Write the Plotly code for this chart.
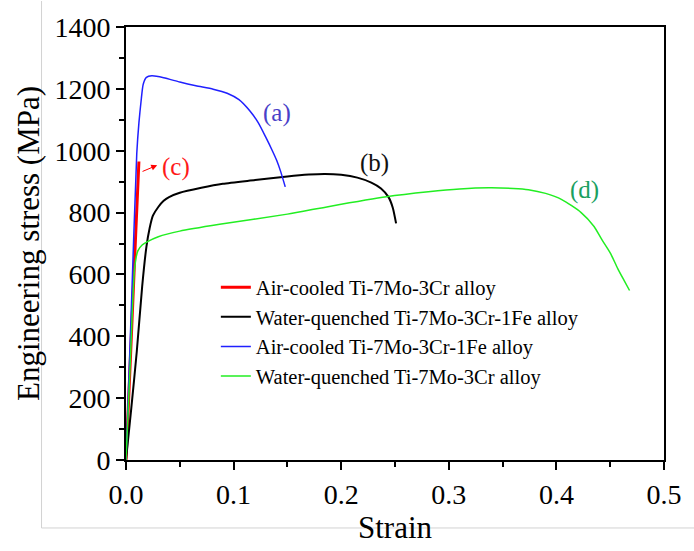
import plotly.graph_objects as go

# ---- data ----
names = ["Air-cooled Ti-7Mo-3Cr alloy",
         "Water-quenched Ti-7Mo-3Cr-1Fe alloy",
         "Air-cooled Ti-7Mo-3Cr-1Fe alloy",
         "Water-quenched Ti-7Mo-3Cr alloy"]

red_strain = [0.0, 0.003, 0.006, 0.009, 0.012]
red_stress = [0, 240, 485, 730, 965]

black_strain = [0.0, 0.005, 0.010, 0.015, 0.019, 0.022, 0.025, 0.030, 0.035, 0.040,
                0.050, 0.070, 0.090, 0.120, 0.150, 0.170, 0.185, 0.200, 0.215, 0.228,
                0.237, 0.244, 0.248, 0.251]
black_stress = [0, 170, 350, 560, 690, 750, 790, 818, 838, 850,
                864, 880, 893, 905, 917, 923, 925, 922, 913, 897,
                878, 850, 815, 765]

blue_strain = [0.0, 0.005, 0.010, 0.012, 0.014, 0.016, 0.019, 0.024, 0.035, 0.050,
               0.065, 0.081, 0.094, 0.105, 0.115, 0.123, 0.130, 0.136, 0.140, 0.144, 0.148]
blue_stress = [0, 495, 990, 1090, 1160, 1215, 1237, 1242, 1236, 1222,
               1210, 1199, 1186, 1165, 1129, 1090, 1043, 1000, 969, 930, 883]

green_strain = [0.0, 0.004, 0.008, 0.011, 0.015, 0.020, 0.030, 0.050, 0.087, 0.150,
                0.189, 0.242, 0.281, 0.310, 0.337, 0.360, 0.374, 0.390, 0.405, 0.423,
                0.435, 0.442, 0.450, 0.457, 0.463, 0.468]
green_stress = [0, 320, 620, 676, 695, 706, 722, 740, 762, 795,
                820, 851, 867, 876, 880, 878, 874, 862, 842, 800,
                755, 714, 670, 619, 580, 548]

x_ticks = [0.0, 0.1, 0.2, 0.3, 0.4, 0.5]
y_ticks = [0, 200, 400, 600, 800, 1000, 1200, 1400]

labels = ["(a)", "(b)", "(c)", "(d)"]
label_x = [0.140, 0.231, 0.046, 0.426]
label_y = [1122, 960, 947, 874]
label_colors = ["#4a3fc8", "#111111", "#ff1a1a", "#1aa060"]

FONT = "Liberation Serif"

fig = go.Figure()
series = [
    (red_strain, red_stress, "#ff0000", 3),
    (black_strain, black_stress, "#000000", 2),
    (blue_strain, blue_stress, "#2020ff", 1.5),
    (green_strain, green_stress, "#22ee22", 1.5),
]
for (xs, ys, col, w), nm in zip(series, names):
    fig.add_trace(go.Scatter(x=xs, y=ys, mode="lines", name=nm,
                             line=dict(color=col, width=w, shape="spline", smoothing=0.6)))

for t, x, y, c in zip(labels, label_x, label_y, label_colors):
    fig.add_annotation(x=x, y=y, text=t, showarrow=False,
                       font=dict(family=FONT, size=25, color=c))

# arrow pointing from red curve tip towards (c)
fig.add_annotation(x=0.029, y=953, ax=0.014, ay=931, axref="x", ayref="y",
                   text="", showarrow=True, arrowhead=2, arrowsize=1.2,
                   arrowwidth=1, arrowcolor="#ff0000")

axis_common = dict(showline=True, linecolor="black", linewidth=2, mirror=True,
                   ticks="outside", ticklen=8, tickwidth=2, tickcolor="black",
                   showgrid=False, zeroline=False,
                   tickfont=dict(family=FONT, size=28, color="black"))

fig.update_xaxes(range=[0, 0.5], tickvals=x_ticks, tickformat=".1f",
                 minor=dict(dtick=0.05, ticks="outside", ticklen=5, tickwidth=2, tickcolor="black"),
                 title=dict(text="Strain", font=dict(family=FONT, size=31, color="black"), standoff=8),
                 **axis_common)
fig.update_yaxes(range=[0, 1400], tickvals=y_ticks,
                 minor=dict(dtick=100, ticks="outside", ticklen=5, tickwidth=2, tickcolor="black"),
                 title=dict(text="Engineering stress (MPa)", font=dict(family=FONT, size=31, color="black"), standoff=6),
                 **axis_common)

# faint frame lines of the original figure
fig.add_shape(type="line", xref="paper", yref="paper", x0=-0.157, x1=-0.157, y0=-0.157, y1=1.06,
              line=dict(color="#d2d2d2", width=1))
fig.add_shape(type="line", xref="paper", yref="paper", x0=-0.157, x1=1.06, y0=-0.157, y1=-0.157,
              line=dict(color="#d2d2d2", width=1))

fig.update_layout(
    width=694, height=551,
    margin=dict(l=126, r=28, t=25, b=87),
    paper_bgcolor="white", plot_bgcolor="white",
    font=dict(family=FONT, color="black"),
    legend=dict(x=0.167, y=0.445, xanchor="left", yanchor="top",
                bgcolor="rgba(0,0,0,0)", borderwidth=0,
                font=dict(family=FONT, size=20.5, color="black")),
    showlegend=True,
)

fig.write_html("out.html")
